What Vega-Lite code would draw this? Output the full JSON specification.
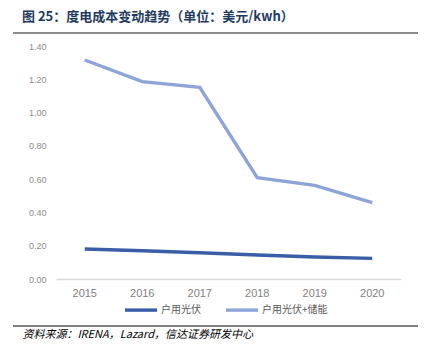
{
  "$schema": "https://vega.github.io/schema/vega-lite/v6.json",
  "padding": {"top": 11, "left": 12, "right": 0, "bottom": 0},
  "background": "white",
  "bounds": "flush",
  "spacing": 12,
  "config": {
    "view": {"stroke": null},
    "font": "Liberation Sans"
  },
  "vconcat": [
    {
      "width": 405,
      "height": 1,
      "title": {
        "text": "图 25：度电成本变动趋势（单位：美元/kwh）",
        "anchor": "start",
        "dx": 10,
        "font": "Noto Sans CJK SC",
        "fontSize": 13,
        "fontWeight": "bold",
        "color": "#1F3A60",
        "offset": 8
      },
      "data": {"values": [{"k": 1}]},
      "mark": {"type": "rule", "color": "#8c8c8c", "strokeWidth": 2},
      "encoding": {"y": {"value": 0}}
    },
    {
      "width": 405,
      "height": 233,
      "data": {
        "values": [
          {"year": "2015", "series": "户用光伏", "cost": 0.18},
          {"year": "2016", "series": "户用光伏", "cost": 0.17},
          {"year": "2017", "series": "户用光伏", "cost": 0.158},
          {"year": "2018", "series": "户用光伏", "cost": 0.144},
          {"year": "2019", "series": "户用光伏", "cost": 0.132},
          {"year": "2020", "series": "户用光伏", "cost": 0.124},
          {"year": "2015", "series": "户用光伏+储能", "cost": 1.316},
          {"year": "2016", "series": "户用光伏+储能", "cost": 1.186},
          {"year": "2017", "series": "户用光伏+储能", "cost": 1.152},
          {"year": "2018", "series": "户用光伏+储能", "cost": 0.609},
          {"year": "2019", "series": "户用光伏+储能", "cost": 0.563},
          {"year": "2020", "series": "户用光伏+储能", "cost": 0.459}
        ]
      },
      "mark": {"type": "line", "strokeWidth": 3.4},
      "encoding": {
        "x": {
          "field": "year",
          "type": "ordinal",
          "bandPosition": 0.5,
          "scale": {"type": "band", "range": [43, 388], "paddingInner": 0, "paddingOuter": 0},
          "axis": {
            "title": null,
            "labelAngle": 0,
            "labelFontSize": 11,
            "labelColor": "#7f7f7f",
            "labelPadding": 8,
            "ticks": false,
            "domainColor": "#d9d9d9",
            "domainWidth": 1.5,
            "grid": false
          }
        },
        "y": {
          "field": "cost",
          "type": "quantitative",
          "scale": {"domain": [0, 1.4]},
          "axis": {
            "title": null,
            "offset": -43,
            "values": [0, 0.2, 0.4, 0.6, 0.8, 1.0, 1.2, 1.4],
            "format": ".2f",
            "labelFontSize": 9,
            "labelColor": "#8c8c8c",
            "labelPadding": 10,
            "ticks": false,
            "domain": false,
            "grid": false
          }
        },
        "color": {
          "field": "series",
          "type": "nominal",
          "scale": {"domain": ["户用光伏", "户用光伏+储能"], "range": ["#3A5DA8", "#8DA4D8"]},
          "legend": {
            "title": null,
            "orient": "none",
            "direction": "horizontal",
            "legendX": 110,
            "legendY": 259,
            "symbolType": "stroke",
            "symbolSize": 1024,
            "symbolStrokeWidth": 3.4,
            "labelFontSize": 10,
            "labelFont": "Noto Sans CJK SC",
            "labelColor": "#595959",
            "labelOffset": 2,
            "columnPadding": 18
          }
        }
      }
    },
    {
      "width": 405,
      "height": 35,
      "title": {
        "text": "资料来源：IRENA，Lazard，信达证券研发中心",
        "orient": "bottom",
        "anchor": "start",
        "dx": 10,
        "font": "Noto Sans CJK SC",
        "fontSize": 11,
        "fontStyle": "italic",
        "fontWeight": "normal",
        "color": "#000000",
        "offset": 2
      },
      "data": {"values": [{"v": 0}]},
      "mark": {"type": "rule", "color": "#000000", "strokeWidth": 1.2},
      "encoding": {
        "y": {"field": "v", "type": "quantitative", "scale": {"domain": [0, 1]}, "axis": null}
      }
    }
  ]
}
